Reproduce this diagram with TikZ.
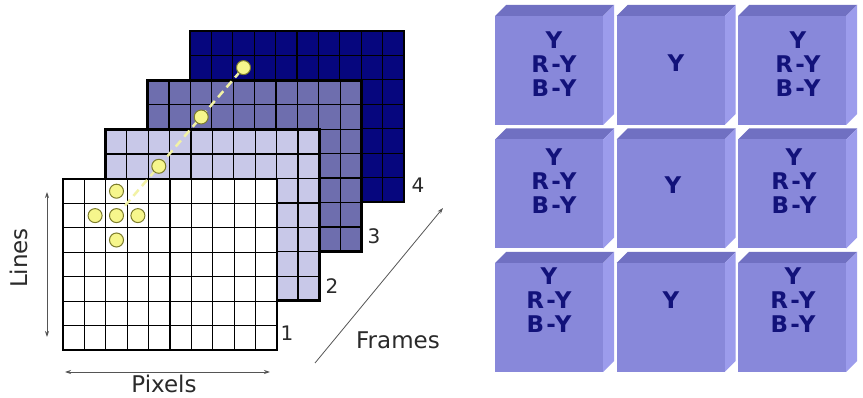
\documentclass[tikz,border=0pt]{standalone}
\usepackage{fontspec}
\setmainfont{DejaVu Sans}
\newfontfamily\cubefont[LetterSpace=10]{DejaVu Sans}
\usetikzlibrary{arrows.meta}
\definecolor{frameA}{HTML}{FFFFFF}
\definecolor{frameB}{HTML}{C8C8E8}
\definecolor{frameC}{HTML}{6E6EAE}
\definecolor{frameD}{HTML}{06067E}
\definecolor{labelgray}{HTML}{2A2A2A}
\definecolor{axisgray}{HTML}{555555}
\definecolor{dotfill}{HTML}{F6F68C}
\definecolor{dotedge}{HTML}{7C7C2C}
\definecolor{tracecol}{HTML}{F2F2A6}
\definecolor{cubefront}{HTML}{8888DA}
\definecolor{cubetop}{HTML}{7070C2}
\definecolor{cuberight}{HTML}{9C9CEC}
\definecolor{cubeink}{HTML}{12127A}
\tikzset{
  gridline/.style={black, line width=1.2pt},
  frameborder/.style={black, line width=2.6pt},
  lbl/.style={text=labelgray, font=\fontsize{23}{26}\selectfont, inner sep=0pt},
  numlbl/.style={text=labelgray, font=\fontsize{20}{24}\selectfont, inner sep=0pt},
  axisline/.style={draw=axisgray, line width=0.8pt},
  pixel/.style={circle, draw=dotedge, fill=dotfill, line width=1pt, minimum size=14pt, inner sep=0pt},
  trace/.style={draw=tracecol, line width=2.5pt, dash pattern=on 8pt off 5pt},
  cubetext/.style={text=cubeink, font=\cubefont\bfseries\fontsize{23}{24}\selectfont, align=center, inner sep=0pt},
}
\begin{document}
\begin{tikzpicture}[x=1pt,y=-1pt]
\useasboundingbox (0,0) rectangle (863,398);
\fill[white] (0,0) rectangle (863,398);

% ---------- frames ----------
\foreach \k/\col in {4/frameD,3/frameC,2/frameB,1/frameA} {
  \pgfmathsetmacro\xo{63+42.33*(\k-1)}
  \pgfmathsetmacro\yo{179-49.33*(\k-1)}
  \fill[\col] (\xo,\yo) rectangle ++(214,171);
  \foreach \i in {1,...,9} \draw[gridline] (\xo+\i*21.4,\yo) -- ++(0,171);
  \foreach \j in {1,...,6} \draw[gridline] (\xo,\yo+\j*24.43) -- ++(214,0);
  \draw[frameborder] (\xo,\yo) rectangle ++(214,171);
}

% frame numbers
\node[numlbl] (n1) at (287,333) {1};
\node[numlbl] (n2) at (332,286) {2};
\node[numlbl] (n3) at (374,236) {3};
\node[numlbl] (n4) at (418,185) {4};

% ---------- sample points ----------
\coordinate (c1) at (116.5,215.6);
\coordinate (c2) at (158.8,166.3);
\coordinate (c3) at (201.2,117.0);
\coordinate (c4) at (243.5,67.6);
\draw[trace] (c1) -- (c4);
\node[pixel] (p1) at (c1) {};
\node[pixel] (p2) at (c2) {};
\node[pixel] (p3) at (c3) {};
\node[pixel] (p4) at (c4) {};
\node[pixel] (pu) at (116.5,191.2) {};
\node[pixel] (pd) at (116.5,240.0) {};
\node[pixel] (pl) at (95.1,215.6) {};
\node[pixel] (pr) at (137.9,215.6) {};

% ---------- axes ----------
\coordinate (lnT) at (47,192);
\coordinate (lnB) at (47,337);
\draw[axisline,{Stealth[length=6pt,width=4pt]}-{Stealth[length=6pt,width=4pt]}] (lnT) -- (lnB);
\node[lbl,rotate=90] (lines) at (19,258) {Lines};

\coordinate (pxL) at (65,372);
\coordinate (pxR) at (270,372);
\draw[axisline,{Stealth[length=6pt,width=4pt]}-{Stealth[length=6pt,width=4pt]}] (pxL) -- (pxR);
\node[lbl] (pixels) at (164,384) {Pixels};

\coordinate (frS) at (315,363);
\coordinate (frE) at (443,208);
\draw[axisline,-{Stealth[length=6pt,width=4pt]}] (frS) -- (frE);
\node[lbl] (frames) at (398,340) {Frames};

% ---------- cubes ----------
\foreach \i in {0,1,2} {
  \foreach \j in {0,1,2} {
    \pgfmathsetmacro\cx{495+121.5*\i}
    \pgfmathsetmacro\cy{5+123.5*\j}
    \fill[cubetop] (\cx,\cy+11) -- (\cx+11,\cy) -- (\cx+119,\cy) -- (\cx+108,\cy+11) -- cycle;
    \fill[cuberight] (\cx+108,\cy+11) -- (\cx+119,\cy) -- (\cx+119,\cy+109) -- (\cx+108,\cy+120) -- cycle;
    \fill[cubefront] (\cx,\cy+11) rectangle (\cx+108,\cy+120);
  }
}
\node[cubetext] (t11) at (554,64) {Y\\R-Y\\B-Y};
\node[cubetext] (t12) at (676,63) {Y};
\node[cubetext] (t13) at (798,64) {Y\\R-Y\\B-Y};
\node[cubetext] (t21) at (554,181) {Y\\R-Y\\B-Y};
\node[cubetext] (t22) at (673,185) {Y};
\node[cubetext] (t23) at (794,181) {Y\\R-Y\\B-Y};
\node[cubetext] (t31) at (549,300) {Y\\R-Y\\B-Y};
\node[cubetext] (t32) at (671,300) {Y};
\node[cubetext] (t33) at (793,300) {Y\\R-Y\\B-Y};
\end{tikzpicture}
\end{document}
